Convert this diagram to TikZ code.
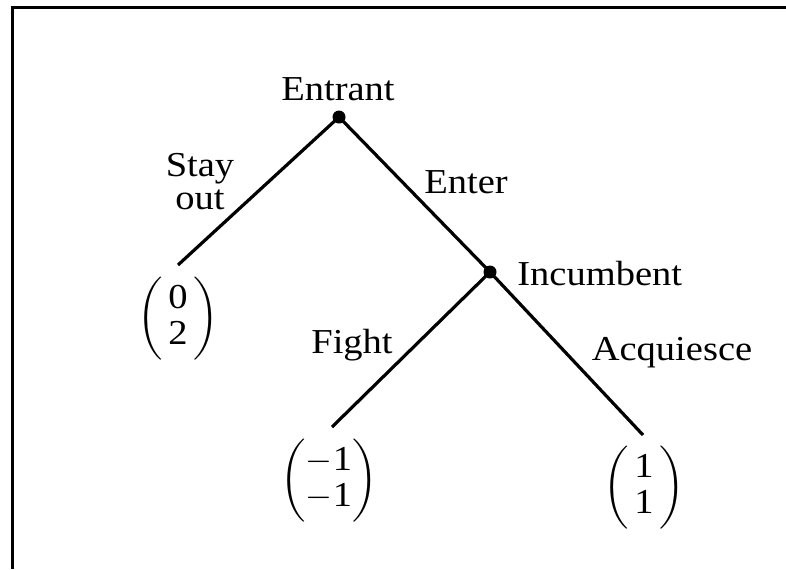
\documentclass[tikz,border=0pt]{standalone}
\usepackage{amsmath}
\usepackage{fontspec}
\setmainfont[FakeStretch=1.1]{Liberation Serif}
\begin{document}
\begin{tikzpicture}[x=0.5pt,y=-0.5pt,
  font=\fontsize{17.5}{16.5}\selectfont,
  dot/.style={circle,fill,inner sep=0pt,minimum size=6.5pt},
  edge/.style={line width=1.6pt},
  lbl/.style={inner sep=0pt},
  payoff/.style={inner sep=0pt}]
\useasboundingbox (0,0) rectangle (786,569);
\draw[line width=1.5pt] (12.5,569) -- (12.5,7) -- (786,7);
\node[dot] (entrant) at (339,117) {};
\node[dot] (incumbent) at (490,272) {};
\coordinate (so) at (178,265);
\coordinate (fi) at (332,427);
\coordinate (ac) at (643,435);
\draw[edge] (entrant.center) -- (so);
\draw[edge] (entrant.center) -- (incumbent.center);
\draw[edge] (incumbent.center) -- (fi);
\draw[edge] (incumbent.center) -- (ac);
\node[lbl, anchor=base] (tEntrant) at (338,100) {Entrant};
\node[lbl, anchor=base west] (tIncumbent) at (517,285) {Incumbent};
\node[lbl, anchor=center, align=center] (tStay) at (200,182) {Stay\\out};
\node[lbl, anchor=base] (tEnter) at (466,193) {Enter};
\node[lbl, anchor=base] (tFight) at (352,353) {Fight};
\node[lbl, anchor=base] (tAcq) at (672,360) {Acquiesce};
\renewcommand{\arraystretch}{1.1}
\node[payoff] (p1) at (178,319) {$\begin{pmatrix}\,\text{0}\,\\ \,\text{2}\,\end{pmatrix}$};
\node[payoff] (p2) at (329,481) {$\begin{pmatrix}-\text{1}\\ -\text{1}\end{pmatrix}$};
\node[payoff] (p3) at (644,488) {$\begin{pmatrix}\,\text{1}\,\\ \,\text{1}\,\end{pmatrix}$};
\end{tikzpicture}
\end{document}
